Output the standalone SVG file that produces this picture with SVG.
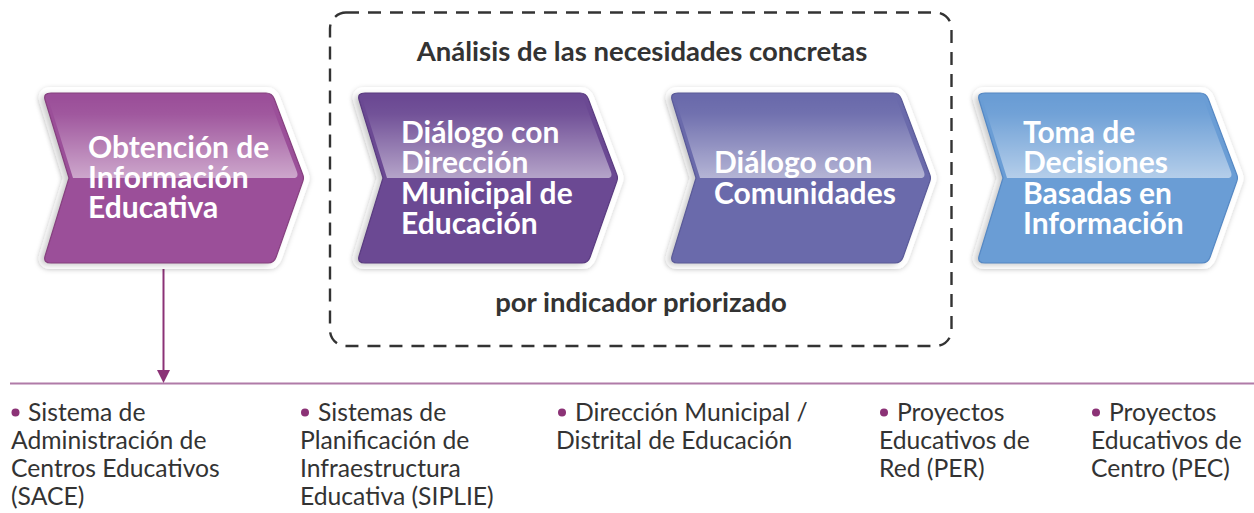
<svg xmlns="http://www.w3.org/2000/svg" xmlns:xlink="http://www.w3.org/1999/xlink" width="1254" height="513" viewBox="0 0 1254 513">
  <style>
    .head { font-family: Lato, "Open Sans", "Liberation Sans", sans-serif; font-weight: 700; font-size: 30px; fill: #ffffff; }
    .title { font-family: Lato, "Open Sans", "Liberation Sans", sans-serif; font-weight: 700; font-size: 27.5px; fill: #333333; }
    .item { font-family: Lato, "Open Sans", "Liberation Sans", sans-serif; font-weight: 400; font-size: 24.7px; fill: #333333; }
    .bullet { fill: #8b3276; }
    .backing { fill: #ffffff; stroke: #ffffff; stroke-width: 12; stroke-linejoin: round; }
  </style>
  <defs>
    <path id="chev" d="M 8,0 L 223,0 Q 229,0 231.3,6 L 259.9,82 Q 261,85 259.9,88 L 233.1,164 Q 231,170 225,170 L 8,170 Q 0,170 2.1,163 L 26,85 L 2.1,7 Q 0,0 8,0 Z"/>
    <path id="hl" d="M 7,5 L 226,5 L 254,79 Q 256,85 250,85 L 30,85 L 6,8 Z"/>
    <linearGradient id="hlg" x1="0" y1="0" x2="0" y2="1">
      <stop offset="0" stop-color="#ffffff" stop-opacity="0"/>
      <stop offset="0.2" stop-color="#ffffff" stop-opacity="0.05"/>
      <stop offset="1" stop-color="#ffffff" stop-opacity="0.5"/>
    </linearGradient>
    <filter id="drop" x="-10%" y="-10%" width="120%" height="120%">
      <feDropShadow dx="0" dy="1" stdDeviation="2.5" flood-color="#000000" flood-opacity="0.18"/>
    </filter>
    <filter id="blur" x="-10%" y="-10%" width="120%" height="120%">
      <feGaussianBlur stdDeviation="3"/>
    </filter>
  </defs>

  <rect id="grupo-analisis" x="330" y="12.5" width="621.5" height="333.5" rx="16" ry="16" fill="none" stroke="#333333" stroke-width="2.4" stroke-dasharray="13 9"/>
  <text class="title" x="642" y="61" text-anchor="middle">Análisis de las necesidades concretas</text>
  <text class="title" x="641" y="312" text-anchor="middle">por indicador priorizado</text>

  <g id="connectors">
    <line x1="10" y1="383.5" x2="1254" y2="383.5" stroke="#b07ba8" stroke-width="2"/>
    <line x1="163.5" y1="265" x2="163.5" y2="372" stroke="#8b3276" stroke-width="2"/>
    <polygon points="157,370 170,370 163.5,383" fill="#8b3276"/>
  </g>

  <g id="obtencion" transform="translate(43,93)">
    <use xlink:href="#chev" class="backing" filter="url(#drop)"/>
    <use xlink:href="#chev" fill="#000000" opacity="0.22" filter="url(#blur)" transform="translate(-4,2)"/>
    <use xlink:href="#chev" fill="#9b4f99" stroke="#86407f" stroke-width="1.2"/>
    <use xlink:href="#hl" fill="url(#hlg)"/>
    <text class="head" x="45" y="65"><tspan x="45" y="65">Obtención de</tspan><tspan x="45" y="95">Información</tspan><tspan x="45" y="125">Educativa</tspan></text>
  </g>

  <g id="dialogo-direccion" transform="translate(357,93)">
    <use xlink:href="#chev" class="backing" filter="url(#drop)"/>
    <use xlink:href="#chev" fill="#000000" opacity="0.22" filter="url(#blur)" transform="translate(-4,2)"/>
    <use xlink:href="#chev" fill="#6b4993" stroke="#5a3b80" stroke-width="1.2"/>
    <use xlink:href="#hl" fill="url(#hlg)"/>
    <text class="head" x="44" y="50"><tspan x="44" y="50">Diálogo con</tspan><tspan x="44" y="80">Dirección</tspan><tspan x="44" y="111">Municipal de</tspan><tspan x="44" y="141">Educación</tspan></text>
  </g>

  <g id="dialogo-comunidades" transform="translate(670,93)">
    <use xlink:href="#chev" class="backing" filter="url(#drop)"/>
    <use xlink:href="#chev" fill="#000000" opacity="0.22" filter="url(#blur)" transform="translate(-4,2)"/>
    <use xlink:href="#chev" fill="#6a6aab" stroke="#5a5a98" stroke-width="1.2"/>
    <use xlink:href="#hl" fill="url(#hlg)"/>
    <text class="head" x="44" y="80"><tspan x="44" y="80">Diálogo con</tspan><tspan x="44" y="111">Comunidades</tspan></text>
  </g>

  <g id="toma-decisiones" transform="translate(977,93)">
    <use xlink:href="#chev" class="backing" filter="url(#drop)"/>
    <use xlink:href="#chev" fill="#000000" opacity="0.22" filter="url(#blur)" transform="translate(-4,2)"/>
    <use xlink:href="#chev" fill="#6a9dd5" stroke="#5588c4" stroke-width="1.2"/>
    <use xlink:href="#hl" fill="url(#hlg)"/>
    <text class="head" x="46" y="50"><tspan x="46" y="50">Toma de</tspan><tspan x="46" y="80">Decisiones</tspan><tspan x="46" y="111">Basadas en</tspan><tspan x="46" y="141">Información</tspan></text>
  </g>

  <g id="item-sace">
    <circle class="bullet" cx="15.5" cy="412.5" r="4"/>
    <text class="item" x="28" y="421"><tspan x="28" y="421">Sistema de</tspan><tspan x="11" y="449">Administración de</tspan><tspan x="11" y="477">Centros Educativos</tspan><tspan x="11" y="505">(SACE)</tspan></text>
  </g>

  <g id="item-siplie">
    <circle class="bullet" cx="305" cy="412.5" r="4"/>
    <text class="item" x="318" y="421"><tspan x="318" y="421">Sistemas de</tspan><tspan x="300" y="449">Planificación de</tspan><tspan x="300" y="477">Infraestructura</tspan><tspan x="300" y="505">Educativa (SIPLIE)</tspan></text>
  </g>

  <g id="item-direccion">
    <circle class="bullet" cx="562" cy="412.5" r="4"/>
    <text class="item" x="575" y="421"><tspan x="575" y="421">Dirección Municipal /</tspan><tspan x="556" y="449">Distrital de Educación</tspan></text>
  </g>

  <g id="item-per">
    <circle class="bullet" cx="884" cy="412.5" r="4"/>
    <text class="item" x="897" y="421"><tspan x="897" y="421">Proyectos</tspan><tspan x="879" y="449">Educativos de</tspan><tspan x="879" y="477">Red (PER)</tspan></text>
  </g>

  <g id="item-pec">
    <circle class="bullet" cx="1096" cy="412.5" r="4"/>
    <text class="item" x="1109" y="421"><tspan x="1109" y="421">Proyectos</tspan><tspan x="1091" y="449">Educativos de</tspan><tspan x="1091" y="477">Centro (PEC)</tspan></text>
  </g>
</svg>
